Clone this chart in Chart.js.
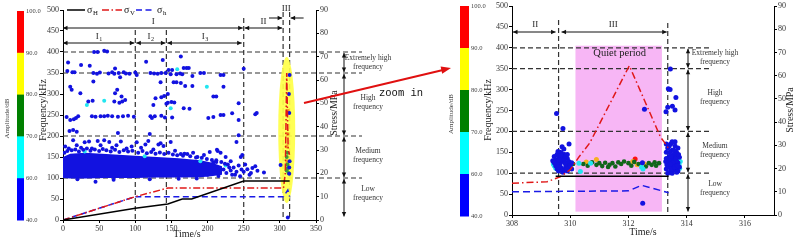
<!DOCTYPE html>
<html><head><meta charset="utf-8">
<script src="https://cdn.jsdelivr.net/npm/chart.js@4.4.1/dist/chart.umd.min.js"></script>
<style>
html,body{margin:0;padding:0;background:#fff;}
#wrap{position:relative;width:800px;height:243px;overflow:hidden;background:#fff;}
#c1{position:absolute;left:0;top:0;}
#c2{position:absolute;left:440px;top:0;}
#ov{position:absolute;left:0;top:0;pointer-events:none;}
</style></head><body>
<div id="wrap">
<canvas id="c1" width="440" height="243"></canvas>
<canvas id="c2" width="360" height="243"></canvas>
<svg id="ov" width="800" height="243">
  <line x1="304" y1="103" x2="443" y2="70" stroke="#e01010" stroke-width="2"/>
  <polygon points="451,68 442.2,73.8 440.6,66.6" fill="#e01010"/>
  <text x="379" y="96" font-family="Liberation Mono, monospace" font-size="10.5" fill="#111">zoom in</text>
</svg>
</div>
<script>
// ================= DATA =================
const freqLines = [100, 200, 350, 400];
const bandLabelFreq = [376, 280, 154, 64];
const bandLabels = [['Extremely high','frequency'],['High','frequency'],['Medium','frequency'],['Low','frequency']];
const bandArrowBounds = [[400,350],[350,200],[200,100],[100,6]];
const ampLabels = ['100.0','90.0','80.0','70.0','60.0','40.0'];
const ampColors = ['#ff0000','#ffff00','#008000','#00ffff','#0000ff'];

// ---- left (full test) ----
const lH_t = [0,100,145,165,178,250,313.5];
const lH_v = [0,5,6.9,9,9,16.7,16.7];
const lV_t = [0,100,145,305,307.5,309.5,311.5,313.5];
const lV_v = [0,10,13.7,13.7,20,63,30,28];
const lh_t = [0,100,305,311,313.5];
const lh_v = [0,10,10,12.8,10];
const leftDividers = [100,143,250,304.5,313.5];
// dense AE band (envelope)
const band_t  = [0,10,30,60,100,130,160,190,205,220];
const band_hi = [150,158,160,157,153,150,147,142,137,128];
const band_lo = [100,99,99,100,100,101,101,102,104,108];
const leftBlue = [
[43,400],[48,400],[57,403],[61,401],[7,375],[25,369],[37,367],[72,361],[6,355],[13,352],[16,352],[42,350],[47,348],[51,351],[63,349],[68,352],[71,348],[77,350],[84,352],[87,349],[92,348],[100,351],[79,340],[42,330],[10,317],[12,310],[24,302],[72,302],[75,310],[81,294],[35,282],[41,284],[71,282],[78,279],[82,282],[86,286],[5,245],[10,238],[15,240],[18,243],[21,247],[40,247],[45,246],[52,247],[57,247],[62,248],[68,247],[76,246],[83,247],[90,248],[98,246],[9,212],[14,214],[19,210],[76,207],
[115,377],[138,381],[163,389],[167,362],[171,362],[174,362],[146,357],[151,357],[121,350],[126,349],[131,348],[136,350],[142,350],[149,347],[157,347],[162,349],[165,347],[179,343],[190,350],[195,350],[218,345],[222,345],[250,360],[135,328],[153,328],[157,328],[163,326],[169,319],[179,319],[222,317],[145,300],[140,295],[136,292],[128,290],[150,281],[154,280],[145,279],[143,277],[208,294],[212,294],[125,274],[167,266],[175,265],[243,278],[121,247],[123,243],[127,247],[136,248],[141,244],[151,244],[201,243],[218,250],[222,250],[234,254],[208,245],[243,238],[266,252],[268,255],[243,202],[120,205],[102,345],
[3,175],[8,170],[14,190],[19,178],[25,172],[30,185],[36,187],[40,170],[48,188],[52,178],[57,190],[64,186],[68,172],[74,178],[80,187],[88,170],[95,175],[102,185],[108,172],[114,180],[118,188],[125,168],[132,180],[135,183],[139,176],[149,186],[155,165],[163,157],[168,158],[172,157],[180,160],[186,150],[195,155],[203,162],[213,167],[214,164],[218,160],[225,150],[232,140],[240,186],[246,150],[248,155],
[2,160],[6,164],[12,166],[17,168],[22,163],[28,167],[33,170],[38,165],[44,168],[50,164],[55,169],[60,166],[66,163],[72,167],[78,162],[84,166],[90,163],[96,165],[104,160],[110,164],[116,159],[122,162],[128,158],[134,161],[140,157],[146,160],[152,156],[158,154],[166,153],[176,152],[184,149],[192,148],[199,145],[206,143],[212,142],[219,138],[224,134],
[208,137],[212,138],[222,120],[226,112],[230,125],[232,118],[236,125],[238,108],[240,115],[243,130],[245,104],[250,115],[255,121],[258,108],[260,112],[266,128],[269,117],[278,113],[301,131],[200,108],[215,105],[228,132],[234,108],[247,120],[252,132],[262,124],
[45,91],[20,97],[70,96],[120,97],[160,98],[185,99],
[313,125],[313.5,140],[313,110],[313.5,345],[312.5,300],[313,255],[311,6]
];
const leftCyan = [[33,274],[57,284],[158,359],[199,317],[149,266],[113,152],[30,163],[190,140],[225,130]];
const leftGreen = [[309.5,118],[311,124],[310.5,132],[312,112],[310.5,160],[309.5,150]];
const leftOrange = [[310,140],[309.5,175],[310.5,205],[311,260]];

// ---- right (zoom in) ----
const rH_t = [309.5,313.38];
const rH_v = [16.7,16.7];
const rV_t = [308,309.2,309.65,310.0,310.3,310.67,312.03,312.95,313.1,313.23,313.38];
const rV_v = [13.7,14.3,16.4,19.5,25,31,64.3,37.9,33.6,31.4,28.6];
const rh_t = [308,312.0,312.45,313.38];
const rh_v = [10,10.4,12.8,9.6];
const rightDividers = [309.6,313.35];
const quietPeriod = [310.18,313.15];
const rBlue = [
[309.45,140],[309.5,132],[309.55,145],[309.6,125],[309.65,150],[309.7,138],[309.75,128],[309.8,145],[309.85,120],[309.9,135],[309.95,128],[310.0,118],[310.05,125],[309.5,118],[309.55,110],[309.6,105],[309.7,112],[309.75,102],[309.8,108],[309.85,115],[309.9,105],[309.65,120],[309.7,130],[309.6,140],[309.55,125],[309.75,140],[309.8,132],[309.95,112],[309.45,125],[309.65,108],[309.85,140],[309.9,145],[309.7,148],[309.6,115],[310.05,110],[309.53,243],[309.75,207],[309.72,163],[309.96,170],[309.78,158],[309.4,130],[309.62,132],[309.82,125],[309.68,143],[309.58,152],[309.88,110],
[312.49,28],[312.55,253],[312.48,125],
[313.3,110],[313.35,125],[313.4,140],[313.45,105],[313.5,118],[313.55,132],[313.6,145],[313.65,112],[313.7,125],[313.75,138],[313.3,150],[313.35,160],[313.45,170],[313.5,155],[313.6,165],[313.4,115],[313.5,100],[313.55,108],[313.65,150],[313.7,105],[313.45,130],[313.55,145],[313.75,115],[313.4,165],[313.3,135],[313.6,120],[313.7,160],[313.35,100],[313.5,140],[313.65,130],[313.44,349],[313.37,302],[313.43,300],[313.63,281],[313.29,247],[313.51,260],[313.6,251],[313.35,258],[313.5,175],[313.3,170],[313.6,175],
[313.32,120],[313.42,150],[313.48,110],[313.52,125],[313.58,115],[313.62,135],[313.68,118],[313.72,145],[313.38,132],[313.46,140],[313.56,155],[313.66,102],[313.28,128],[313.44,122]
];
const rCyan = [[309.45,118],[309.5,112],[309.42,122],[310.35,104],[310.3,124],[310.7,124],[312.45,115],[312.5,110],[313.74,120],[313.78,128],[313.72,135],[313.76,112]];
const rDarkGreen = [[310.1,122],[310.45,122],[310.6,118],[310.75,126],[310.9,120],[311.0,124],[311.1,117],[311.2,125],[311.3,115],[311.35,120],[311.45,124],[311.55,116],[311.65,126],[311.75,122],[311.85,128],[312.0,124],[312.1,118],[312.2,127],[312.35,122],[312.6,116],[312.7,124],[312.8,120],[312.9,126],[312.95,118],[313.05,124],[313.6,140],[309.95,125]];
const rOrange = [[310.55,127],[310.9,133],[312.15,128],[312.55,122],[312.3,120]];
const rRed = [[312.23,134]];

// ================= HELPERS =================
const FONT = '"Liberation Serif","Times New Roman",serif';
Chart.defaults.font.family = FONT;
Chart.defaults.color = '#222';
const toXY = (ts, vs) => ts.map((t,i)=>({x:t,y:vs[i]}));
const pts = arr => arr.map(([x,y])=>({x,y}));
const BLUE = '#1212e0';
function lineDS(label, data, color, dash, width){
  return {type:'line', label, data, yAxisID:'y2', borderColor:color, borderWidth:width, borderDash:dash, pointRadius:0, fill:false, tension:0, order:0};
}
function scatterDS(label, data, color, r){
  return {type:'scatter', label, data, yAxisID:'y', backgroundColor:color, borderColor:color, borderWidth:0, pointRadius:r, order:1};
}
function axis(min,max,step,pos,fit,extra){
  return Object.assign({type:'linear', position:pos, min, max,
    ticks:{stepSize:step, font:{size:8}, color:'#333', padding:1, maxRotation:0, autoSkip:false},
    grid:{display:true, drawOnChartArea:false, drawTicks:true, tickLength:3, color:'#000', lineWidth:1},
    border:{display:true, color:'#000', width:1},
    afterFit:fit}, extra||{});
}
function seg(ctx,x1,y1,x2,y2){ctx.beginPath();ctx.moveTo(x1,y1);ctx.lineTo(x2,y2);ctx.stroke();}
function head(ctx,x,y,dx,dy,len,w){
  len=len||4.5; w=w||2.2;
  ctx.beginPath(); ctx.moveTo(x,y);
  ctx.lineTo(x-dx*len-dy*w, y-dy*len+dx*w);
  ctx.lineTo(x-dx*len+dy*w, y-dy*len-dx*w);
  ctx.closePath(); ctx.fill();
}
function dblH(ctx,x1,x2,y){ seg(ctx,x1,y,x2,y); head(ctx,x1,y,-1,0); head(ctx,x2,y,1,0); }
function dblV(ctx,x,y1,y2){ seg(ctx,x,y1,x,y2); head(ctx,x,y1,0,-1); head(ctx,x,y2,0,1); }
function vtext(ctx,s,x,y,size){
  ctx.save(); ctx.translate(x,y); ctx.rotate(-Math.PI/2);
  ctx.font = size+'px '+FONT; ctx.textAlign='center'; ctx.textBaseline='middle';
  ctx.fillText(s,0,0); ctx.restore();
}
function ctext(ctx,s,x,y,size){
  ctx.font = size+'px '+FONT; ctx.textAlign='center'; ctx.textBaseline='middle'; ctx.fillText(s,x,y);
}
function subText(ctx,main,sb,cx,y,size,center){
  ctx.textBaseline='middle'; ctx.textAlign='left';
  ctx.font = size+'px '+FONT; const w1 = ctx.measureText(main).width;
  ctx.font = (size*0.68)+'px '+FONT; const w2 = ctx.measureText(sb).width;
  const x = center ? cx-(w1+w2+0.5)/2 : cx;
  ctx.font = size+'px '+FONT; ctx.fillText(main,x,y);
  ctx.font = (size*0.68)+'px '+FONT; ctx.fillText(sb,x+w1+0.5,y+size*0.28);
}
function colorbar(ctx,x,top,w,bottom,labelX,titleX){
  const h=(bottom-top)/ampColors.length;
  ampColors.forEach((c,i)=>{ctx.fillStyle=c; ctx.fillRect(x,top+i*h,w,h+0.5);});
  ctx.fillStyle='#444'; ctx.font='6.5px '+FONT; ctx.textAlign='left'; ctx.textBaseline='middle';
  ampLabels.forEach((l,i)=>ctx.fillText(l,labelX,top+i*h));
  vtext(ctx,'Amplitude/dB',titleX,(top+bottom)/2+3,7);
}
function dashSetup(ctx){ctx.strokeStyle='#333'; ctx.lineWidth=1.2; ctx.setLineDash([5,3]);}
function bandLabelsDraw(ctx,ys,labelX,arrowX){
  ctx.fillStyle='#333';
  bandLabels.forEach((pair,i)=>{
    const yc = ys(bandLabelFreq[i]);
    ctext(ctx,pair[0],labelX,yc-4.5,7.5);
    ctext(ctx,pair[1],labelX,yc+4.5,7.5);
  });
  ctx.strokeStyle='#111'; ctx.fillStyle='#111'; ctx.lineWidth=1; ctx.setLineDash([]);
  bandArrowBounds.forEach(([a,b])=>dblV(ctx,arrowX,ys(a)+1,ys(b)-1));
}

// ================= LEFT CHART =================
const leftDeco = {
  id:'leftDeco',
  beforeDatasetsDraw(chart){
    const {ctx, scales:{x,y}} = chart;
    ctx.save();
    dashSetup(ctx);
    freqLines.forEach(f=>{const py=y.getPixelForValue(f); seg(ctx,x.left,py,362,py);});
    const tops=[30,30,18,12,12];
    leftDividers.forEach((t,i)=>{const px=x.getPixelForValue(t); seg(ctx,px,tops[i],px,y.bottom);});
    ctx.setLineDash([]);
    ctx.fillStyle='rgba(255,255,70,0.92)';
    ctx.beginPath();
    ctx.ellipse(x.getPixelForValue(309.5), y.getPixelForValue(214), 8.5, 73, 0, 0, Math.PI*2);
    ctx.fill();
    ctx.restore();
  },
  afterDraw(chart){
    const {ctx, scales:{x,y}} = chart;
    const X = v=>x.getPixelForValue(v), Y = v=>y.getPixelForValue(v);
    ctx.save();
    colorbar(ctx,17,11,7,220,26,7);
    ctx.fillStyle='#222';
    vtext(ctx,'Frequency/kHz',43,110,10);
    vtext(ctx,'Stress/MPa',334,113,10);
    ctext(ctx,'Time/s',187,234,10);
    // legend
    ctx.lineWidth=1.5;
    ctx.strokeStyle='#000'; ctx.setLineDash([]); seg(ctx,67,10,85,10);
    ctx.strokeStyle='#e01818'; ctx.setLineDash([7,2.5,1.5,2.5]); seg(ctx,102,10,122,10);
    ctx.strokeStyle='#1a1ae6'; ctx.setLineDash([6,3.5]); seg(ctx,136,10,155,10);
    ctx.setLineDash([]); ctx.fillStyle='#111';
    subText(ctx,'σ','H',87,10,10,false);
    subText(ctx,'σ','V',124,10,10,false);
    subText(ctx,'σ','h',157,10,10,false);
    // stage arrows
    ctx.strokeStyle='#111'; ctx.fillStyle='#111'; ctx.lineWidth=1;
    dblH(ctx,X(0),X(250)-1,28);
    dblH(ctx,X(250)+1,X(304.5)-1,28);
    dblH(ctx,X(0),X(100)-1,43);
    dblH(ctx,X(100)+1,X(143)-1,43);
    dblH(ctx,X(143)+1,X(250)-2,43);
    seg(ctx,269,18,X(304.5)-1,18); head(ctx,X(304.5)-1,18,1,0);
    seg(ctx,X(313.5)+14,18,X(313.5)+1,18); head(ctx,X(313.5)+1,18,-1,0);
    ctx.fillStyle='#222';
    ctext(ctx,'I',(X(0)+X(250))/2,22,9);
    ctext(ctx,'II',(X(250)+X(304.5))/2,22,9);
    ctext(ctx,'III',(X(304.5)+X(313.5))/2,9,9);
    subText(ctx,'I','1',(X(0)+X(100))/2,37,9,true);
    subText(ctx,'I','2',(X(100)+X(143))/2,37,9,true);
    subText(ctx,'I','3',(X(143)+X(250))/2,37,9,true);
    bandLabelsDraw(ctx,Y,368,344);
    ctx.restore();
  }
};

new Chart(document.getElementById('c1'), {
  type:'scatter',
  data:{datasets:[
    lineDS('σH', toXY(lH_t,lH_v), '#000000', [], 1.5),
    lineDS('σV', toXY(lV_t,lV_v), '#e01818', [7,2.5,1.5,2.5], 1.5),
    lineDS('σh', toXY(lh_t,lh_v), '#1a1ae6', [6,3.5], 1.5),
    {type:'line', label:'band low', data:toXY(band_t,band_lo), yAxisID:'y', borderWidth:0, borderColor:'rgba(0,0,0,0)', pointRadius:0, fill:false, order:3},
    {type:'line', label:'band high', data:toXY(band_t,band_hi), yAxisID:'y', borderWidth:0, borderColor:'rgba(0,0,0,0)', pointRadius:0, fill:'-1', backgroundColor:BLUE, order:3},
    scatterDS('AE blue', pts(leftBlue), BLUE, 2),
    scatterDS('AE cyan', pts(leftCyan), '#22e6f0', 2),
    scatterDS('AE green', pts(leftGreen), '#3a9a3a', 2),
    scatterDS('AE orange', pts(leftOrange), '#f0a020', 2)
  ]},
  options:{
    responsive:false, animation:false, events:[],
    layout:{padding:{top:10,left:0,right:0,bottom:0}},
    plugins:{legend:{display:false}, tooltip:{enabled:false}},
    scales:{
      x: axis(0,350,50,'bottom', s=>{s.height=23;}),
      y: axis(0,500,50,'left', s=>{s.width=63;}),
      y2: axis(0,90,10,'right', s=>{s.width=124;})
    }
  },
  plugins:[leftDeco]
});

// ================= RIGHT CHART =================
const rightDeco = {
  id:'rightDeco',
  beforeDatasetsDraw(chart){
    const {ctx, scales:{x,y}} = chart;
    ctx.save();
    ctx.fillStyle='#f7b6f5';
    const x1=x.getPixelForValue(quietPeriod[0]), x2=x.getPixelForValue(quietPeriod[1]);
    const yt=y.getPixelForValue(405), yb=y.getPixelForValue(8);
    ctx.fillRect(x1,yt,x2-x1,yb-yt);
    dashSetup(ctx);
    freqLines.forEach(f=>{const py=y.getPixelForValue(f); seg(ctx,x.left,py,272,py);});
    rightDividers.forEach((t,i)=>{const px=x.getPixelForValue(t); seg(ctx,px,i?23:20,px,y.bottom);});
    ctx.restore();
  },
  afterDraw(chart){
    const {ctx, scales:{x,y}} = chart;
    const X = v=>x.getPixelForValue(v), Y = v=>y.getPixelForValue(v);
    ctx.save();
    colorbar(ctx,20,6,9,216,31,11);
    ctx.fillStyle='#222';
    vtext(ctx,'Frequency/kHz',48,110,10);
    vtext(ctx,'Stress/MPa',350,110,10);
    ctext(ctx,'Time/s',203,232,10);
    ctext(ctx,'Quiet period',(X(quietPeriod[0])+X(quietPeriod[1]))/2+1,53,10.5);
    ctx.strokeStyle='#111'; ctx.fillStyle='#111'; ctx.lineWidth=1;
    dblH(ctx,x.left+1,X(rightDividers[0])-3,32);
    dblH(ctx,X(rightDividers[0])+3,X(rightDividers[1])-1,32);
    ctx.fillStyle='#222';
    ctext(ctx,'II',(x.left+X(rightDividers[0]))/2,25,9);
    ctext(ctx,'III',(X(rightDividers[0])+X(rightDividers[1]))/2,25,9);
    bandLabelsDraw(ctx,Y,275,248);
    ctx.restore();
  }
};

new Chart(document.getElementById('c2'), {
  type:'scatter',
  data:{datasets:[
    lineDS('σH', toXY(rH_t,rH_v), '#000000', [], 1.5),
    lineDS('σV', toXY(rV_t,rV_v), '#e01818', [7,3,1.5,3], 1.5),
    lineDS('σh', toXY(rh_t,rh_v), '#1a1ae6', [7,4], 1.5),
    scatterDS('AE blue', pts(rBlue), BLUE, 2.5),
    scatterDS('AE cyan', pts(rCyan), '#22e6f0', 2.5),
    scatterDS('AE green', pts(rDarkGreen), '#11661a', 2.3),
    scatterDS('AE orange', pts(rOrange), '#f5b020', 2.5),
    scatterDS('AE red', pts(rRed), '#ff1010', 2.5)
  ]},
  options:{
    responsive:false, animation:false, events:[],
    layout:{padding:{top:6,left:0,right:0,bottom:0}},
    plugins:{legend:{display:false}, tooltip:{enabled:false}},
    scales:{
      x: axis(308,317,2,'bottom', s=>{s.height=28;}, {afterBuildTicks:s=>{s.ticks=s.ticks.filter(t=>t.value<=316);}}),
      y: axis(0,500,50,'left', s=>{s.width=72;}),
      y2: axis(0,90,10,'right', s=>{s.width=26;})
    }
  },
  plugins:[rightDeco]
});
</script>
</body></html>
